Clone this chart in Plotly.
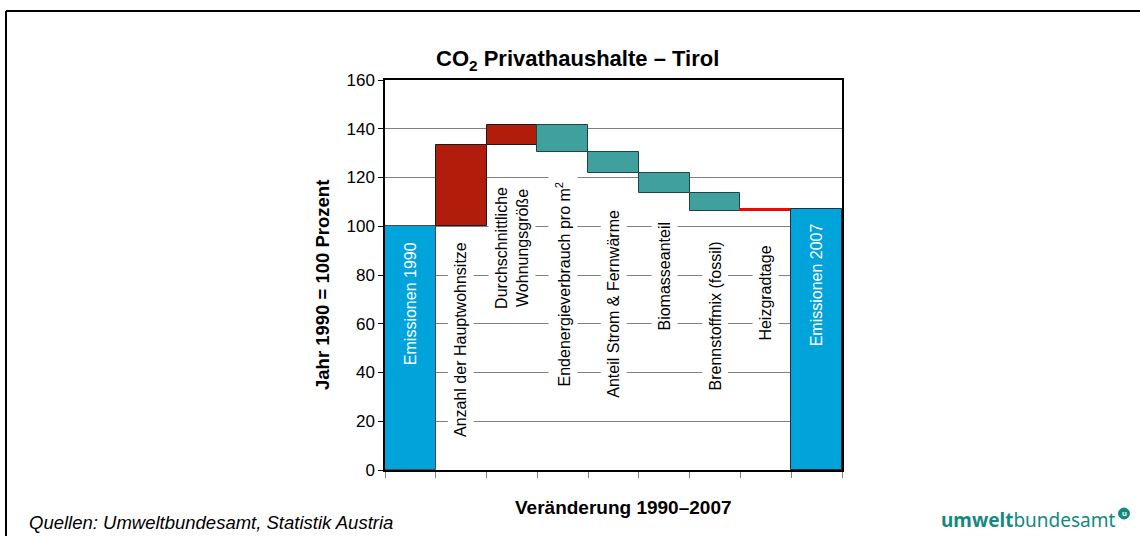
import plotly.graph_objects as go

# Waterfall: CO2 emissions of private households in Tyrol, 1990 = 100
categories = [
    "Emissionen 1990",
    "Anzahl der Hauptwohnsitze",
    "Durchschnittliche Wohnungsgröße",
    "Endenergieverbrauch pro m²",
    "Anteil Strom & Fernwärme",
    "Biomasseanteil",
    "Brennstoffmix (fossil)",
    "Heizgradtage",
    "Emissionen 2007",
]
start_value = 100.0
changes = [33.4, 8.2, -11.2, -8.6, -8.2, -7.3, 0.9]   # effects between 1990 and 2007
y_ticks = [0, 20, 40, 60, 80, 100, 120, 140, 160]

# Label texts drawn vertically inside the plot
label_texts = [
    "Emissionen 1990",
    "Anzahl der Hauptwohnsitze",
    "Durchschnittliche<br>Wohnungsgröße",
    "Endenergieverbrauch pro m<sup>2</sup>",
    "Anteil Strom & Fernwärme",
    "Biomasseanteil",
    "Brennstoffmix (fossil)",
    "Heizgradtage",
    "Emissionen 2007",
]
# vertical centre of each label, in axis units
label_y = [68.2, 53.4, 91.1, 76.4, 68.0, 79.5, 63.0, 72.7, 76.0]

BLUE = "#00A3DA"
DARK_RED = "#B11C0B"
BRIGHT_RED = "#FF0000"
TEAL = "#40A09D"
LOGO = "#14897F"
FONT = "Liberation Sans, Arial, sans-serif"

# bar bottoms / heights from the running total
end_value = start_value + sum(changes)
bases, heights, fills, edges = [0.0], [start_value], [BLUE], ["#4a4a4a"]
running = start_value
for d in changes:
    lo = running if d >= 0 else running + d
    bases.append(lo)
    heights.append(abs(d))
    if d >= 0:
        small = abs(d) < 2
        fills.append(BRIGHT_RED if small else DARK_RED)
        edges.append(BRIGHT_RED if small else "#1a1a1a")
    else:
        fills.append(TEAL)
        edges.append("#1e4544")
    running += d
bases.append(0.0)
heights.append(end_value)
fills.append(BLUE)
edges.append("#1a3030")

fig = go.Figure()
fig.add_trace(go.Bar(
    x=categories, y=heights, base=bases,
    marker=dict(color=fills, line=dict(color=edges, width=1)),
    hoverinfo="skip", showlegend=False,
))

# plot area in pixels: x 385..842, y 80..470
L, R, T, B = 385, 842, 80, 470
W, H = 1140, 536


def px(x):
    return (x - L) / (R - L)


def py(y):
    return (B - y) / (B - T)


annotations = []
for i, (cat, txt, yy) in enumerate(zip(categories, label_texts, label_y)):
    total = i in (0, len(categories) - 1)
    annotations.append(dict(
        x=cat, y=yy, xref="x", yref="y", text=txt, textangle=-90,
        showarrow=False, xanchor="center", yanchor="middle",
        font=dict(family=FONT, size=16, color="white" if total else "black"),
        bgcolor="rgba(0,0,0,0)" if total else "white",
        borderpad=4,
    ))

annotations += [
    dict(x=px(577), y=py(60), xref="paper", yref="paper",
         text="<b>CO<sub>2</sub> Privathaushalte – Tirol</b>",
         showarrow=False, xanchor="center", yanchor="middle",
         font=dict(family=FONT, size=22, color="black")),
    dict(x=px(322), y=py(285), xref="paper", yref="paper",
         text="<b>Jahr 1990 = 100 Prozent</b>", textangle=-90,
         showarrow=False, xanchor="center", yanchor="middle",
         font=dict(family=FONT, size=18.5, color="black")),
    dict(x=px(623), y=py(507), xref="paper", yref="paper",
         text="<b>Veränderung 1990–2007</b>",
         showarrow=False, xanchor="center", yanchor="middle",
         font=dict(family=FONT, size=19, color="black")),
    dict(x=px(27), y=py(522), xref="paper", yref="paper",
         text="<i>Quellen: Umweltbundesamt, Statistik Austria</i>",
         showarrow=False, xanchor="left", yanchor="middle",
         font=dict(family=FONT, size=18.5, color="black")),
    dict(x=px(1117), y=py(520), xref="paper", yref="paper",
         text="<b>umwelt</b>bundesamt",
         showarrow=False, xanchor="right", yanchor="middle",
         font=dict(family="Noto Sans, Liberation Sans, sans-serif", size=19, color=LOGO)),
    dict(x=px(1124), y=py(513.5), xref="paper", yref="paper",
         text="<b>u</b>", showarrow=False, xanchor="center", yanchor="middle",
         font=dict(family=FONT, size=8, color="white")),
]

shapes = [
    # page frame: left and top edges
    dict(type="line", xref="paper", yref="paper",
         x0=px(6), x1=px(6), y0=py(11), y1=py(H + 2),
         line=dict(color="black", width=2)),
    dict(type="line", xref="paper", yref="paper",
         x0=px(6), x1=px(W + 2), y0=py(11), y1=py(11),
         line=dict(color="black", width=2)),
    # logo mark
    dict(type="circle", xref="paper", yref="paper",
         x0=px(1118.5), x1=px(1129.5), y0=py(508), y1=py(519),
         fillcolor=LOGO, line=dict(color=LOGO, width=1)),
]

fig.update_layout(
    width=W, height=H,
    margin=dict(l=L, r=W - R, t=T, b=H - B, autoexpand=False),
    paper_bgcolor="white", plot_bgcolor="white",
    bargap=0,
    showlegend=False,
    annotations=annotations,
    shapes=shapes,
    xaxis=dict(
        type="category", categoryorder="array", categoryarray=categories,
        showticklabels=False, showgrid=False,
        ticks="outside", tickson="boundaries", ticklen=6,
        tickcolor="#808080", tickwidth=1,
        showline=True, linecolor="black", linewidth=1.5, mirror=True,
        fixedrange=True,
    ),
    yaxis=dict(
        range=[0, 160], tickvals=y_ticks, ticktext=[str(v) for v in y_ticks],
        showgrid=True, gridcolor="#808080", gridwidth=1,
        ticks="outside", ticklen=5, tickcolor="black", tickwidth=1,
        showline=True, linecolor="black", linewidth=1.5, mirror=True,
        tickfont=dict(family=FONT, size=17, color="black"),
        zeroline=False, fixedrange=True,
    ),
)

fig.write_html("out.html", config={"displayModeBar": False})
